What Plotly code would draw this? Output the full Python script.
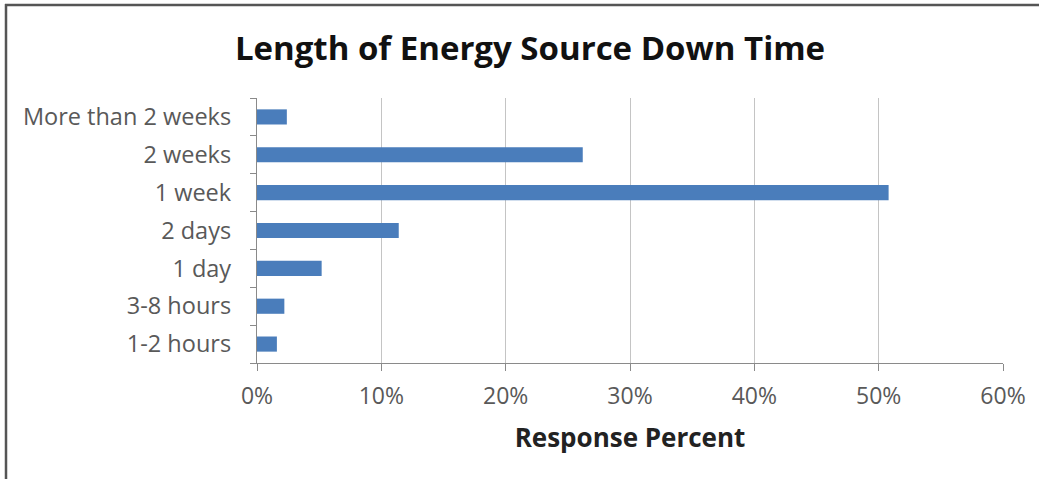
import plotly.graph_objects as go

categories = ["1-2 hours", "3-8 hours", "1 day", "2 days", "1 week", "2 weeks", "More than 2 weeks"]
percents = [1.6, 2.2, 5.2, 11.4, 50.8, 26.2, 2.4]
x_ticks = [0, 10, 20, 30, 40, 50, 60]
x_tick_labels = ["0%", "10%", "20%", "30%", "40%", "50%", "60%"]

W, H = 1039, 479
ML, MR, MT, MB = 257, 36, 98, 116
pw = W - ML - MR
ph = H - MT - MB

def px_x(p):
    return (p - ML) / pw

def px_y(p):
    return (H - MB - p) / ph

fig = go.Figure(go.Bar(
    x=percents, y=categories, orientation="h",
    marker=dict(color="#4a7dbb", line=dict(width=0)),
))

frame = "#555555"
fig.update_layout(
    width=W, height=H,
    margin=dict(l=ML, r=MR, t=MT, b=MB),
    paper_bgcolor="white", plot_bgcolor="white",
    bargap=0.6,
    showlegend=False,
    font=dict(family="Open Sans", color="#595959"),
    title=dict(text="<b>Length of Energy Source Down Time</b>",
               font=dict(family="Open Sans", size=33, color="#111111"),
               x=530 / W, xref="container", xanchor="center",
               y=1 - 48 / H, yref="container", yanchor="middle"),
    xaxis=dict(range=[0, 60], tickvals=x_ticks, ticktext=x_tick_labels,
               showgrid=True, gridcolor="#c4c4c4", gridwidth=1.3,
               zeroline=False, showline=True, linecolor="#8a8a8a", linewidth=1.3,
               ticks="outside", ticklen=7, tickcolor="#8a8a8a", tickwidth=1.3,
               tickfont=dict(size=23, color="#595959"),
               ticklabelstandoff=5,
               title=dict(text="<b>Response Percent</b>",
                          font=dict(size=26, color="#222222"), standoff=19)),
    yaxis=dict(type="category", categoryorder="array", categoryarray=categories,
               showgrid=False, zeroline=False,
               showline=True, linecolor="#8a8a8a", linewidth=1.3,
               ticks="outside", tickson="boundaries", ticklen=6,
               tickcolor="#8a8a8a", tickwidth=1.3,
               tickfont=dict(size=23.5, color="#595959"),
               ticklabelstandoff=20),
    shapes=[
        dict(type="line", xref="paper", yref="paper",
             x0=px_x(5), x1=px_x(W + 5), y0=px_y(5), y1=px_y(5),
             line=dict(color=frame, width=2.5)),
        dict(type="line", xref="paper", yref="paper",
             x0=px_x(6), x1=px_x(6), y0=px_y(4), y1=px_y(H + 5),
             line=dict(color=frame, width=2.5)),
    ],
)

fig.write_html("out.html",
               config={"displayModeBar": False},
               post_script="document.body.style.margin='0';document.body.style.overflow='hidden';")
